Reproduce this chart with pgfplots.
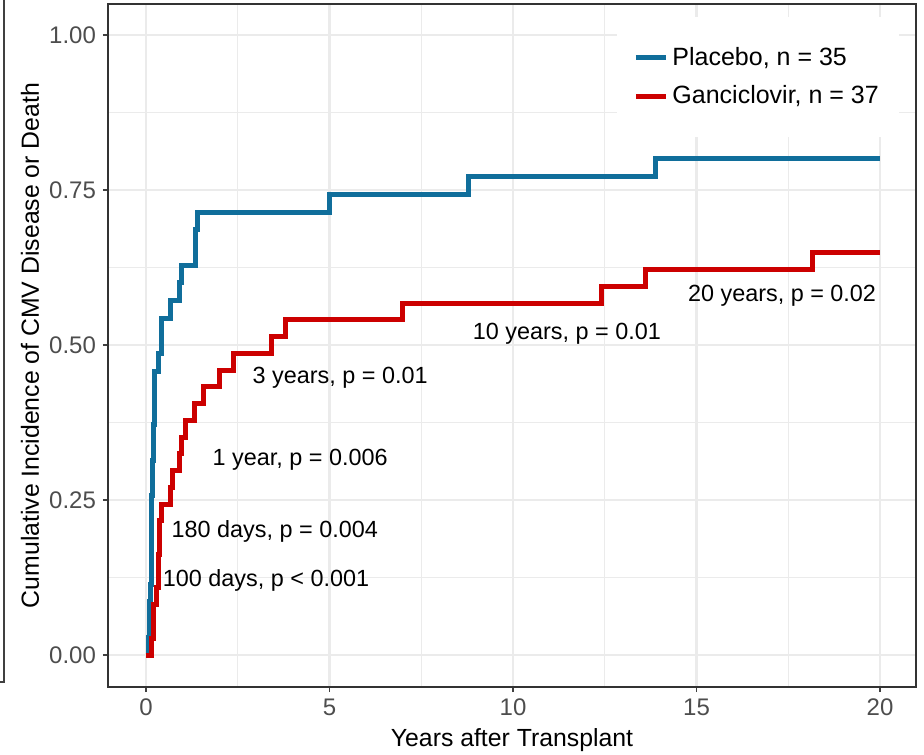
\documentclass[border=0pt]{standalone}
\usepackage{fontspec}
\setmainfont{Liberation Sans}
\usepackage{pgfplots}
\pgfplotsset{compat=1.18}

\definecolor{plac}{RGB}{16,110,155}
\definecolor{ganc}{RGB}{204,0,0}
\definecolor{gridc}{RGB}{235,235,235}
\definecolor{tickc}{RGB}{77,77,77}

\begin{document}
\begin{tikzpicture}
\begin{axis}[
    scale only axis,
    width=404pt, height=341.5pt,
    xmin=-1.035, xmax=20.98,
    ymin=-0.0516, ymax=1.05,
    xtick={0,5,10,15,20},
    minor xtick={2.5,7.5,12.5,17.5},
    ytick={0,0.25,0.5,0.75,1},
    minor ytick={0.125,0.375,0.625,0.875},
    yticklabel style={/pgf/number format/.cd, fixed, fixed zerofill, precision=2},
    /pgf/number format/assume math mode=true,
    grid=both,
    major grid style={gridc, line width=1.1pt},
    minor grid style={gridc, line width=0.55pt},
    axis line style={draw=black!80, line width=0.7pt},
    tick pos=left,
    tick align=outside,
    major tick length=2.5pt, minor tick length=0pt,
    tick style={black!75, line width=0.7pt},
    ticklabel style={font=\fontsize{12}{14}\selectfont, text=tickc},
    xlabel={Years after Transplant},
    ylabel={Cumulative Incidence of CMV Disease or Death},
    label style={font=\fontsize{12.4}{15}\selectfont},
    xlabel style={at={(axis description cs:0.5,-0.0776)}, anchor=center},
    ylabel style={at={(axis description cs:-0.0965,0.5)}, anchor=center},
    legend style={at={(rel axis cs:0.63,0.981)}, anchor=north west,
        fill=white, draw=none, font=\fontsize{12.5}{15}\selectfont,
        inner xsep=8pt, inner ysep=13pt, row sep=4.5pt},
    legend cell align=left,
    legend image code/.code={\draw[#1, line width=2.5pt] (-2.5pt,0pt) -- (12.5pt,0pt);},
]
\addplot[const plot, plac, line width=2.5pt] coordinates {
    (0,0) (0.08,0.0286) (0.09,0.0571) (0.10,0.0857) (0.12,0.1143) (0.14,0.1429)
    (0.15,0.2) (0.155,0.2571) (0.17,0.3143) (0.2,0.3714) (0.22,0.4) (0.245,0.4571)
    (0.34,0.4857) (0.43,0.5429) (0.68,0.5714) (0.91,0.6) (0.97,0.6286)
    (1.36,0.6857) (1.41,0.7143) (5.0,0.7429) (8.8,0.7714) (13.88,0.8) (20,0.8)
};
\addlegendentry{Placebo, n = 35}
\addplot[const plot, ganc, line width=2.5pt] coordinates {
    (0,0) (0.15,0.027) (0.2,0.0811) (0.29,0.1081) (0.335,0.1622) (0.38,0.2162)
    (0.41,0.2432) (0.68,0.2703) (0.73,0.2973) (0.9,0.3243) (0.97,0.3514)
    (1.09,0.3784) (1.32,0.4054) (1.56,0.4324) (2.0,0.4595) (2.38,0.4865)
    (3.42,0.5135) (3.79,0.5405) (7.0,0.5676) (12.4,0.5946) (13.62,0.6216)
    (18.15,0.6486) (20,0.6486)
};
\addlegendentry{Ganciclovir, n = 37}

% p-value notes
\begin{scope}[every node/.style={font=\fontsize{11.7}{14}\selectfont, inner sep=0pt}]
\node at (axis cs:17.33,0.579) {20 years, p = 0.02};
\node at (axis cs:11.47,0.518) {10 years, p = 0.01};
\node at (axis cs:5.29,0.447) {3 years, p = 0.01};
\node at (axis cs:4.2,0.315) {1 year, p = 0.006};
\node at (axis cs:3.51,0.2) {180 days, p = 0.004};
\node at (axis cs:3.27,0.121) {100 days, p < 0.001};
\end{scope}

\coordinate (sw) at (rel axis cs:0,0);
\coordinate (ne) at (rel axis cs:1,1);
\end{axis}
% edge of the neighbouring panel, cut off at the left
\draw[black!75, line width=0.6pt] ([shift={(-56pt,2.5pt)}]sw) -- ([shift={(-52pt,2.5pt)}]sw)
    -- ([shift={(-52pt,4pt)}]sw |- ne);
\pgfresetboundingbox
\path[use as bounding box] ([shift={(-54pt,-33.5pt)}]sw) rectangle ([shift={(4pt,2pt)}]ne);
\end{tikzpicture}
\end{document}
